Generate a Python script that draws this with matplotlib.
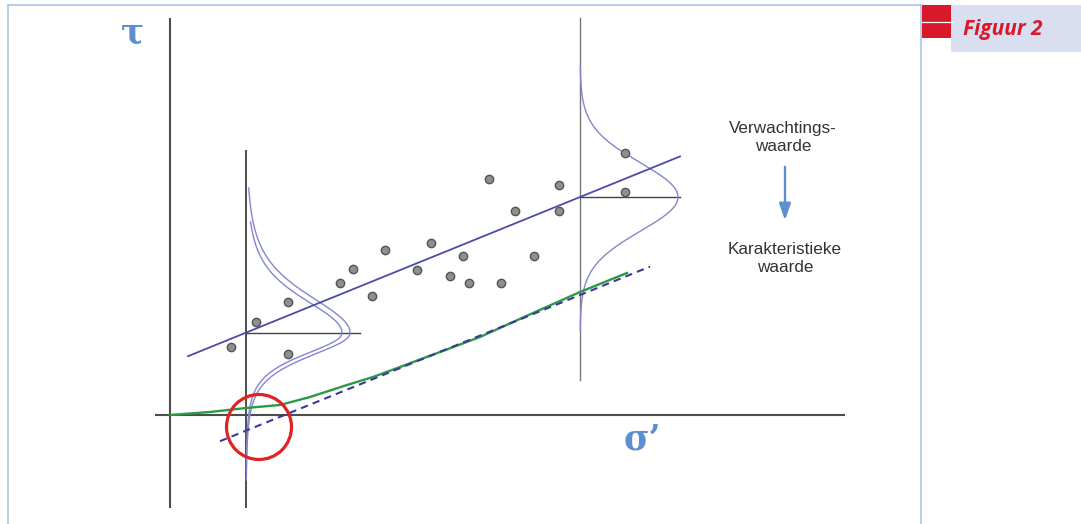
import matplotlib
matplotlib.use("Agg")
import matplotlib.pyplot as plt
from matplotlib.patches import Circle, Rectangle
from matplotlib.lines import Line2D
import numpy as np

# measured shear strength (sigma', tau)
sigma_obs = [0.61, 0.86, 1.18, 1.18, 1.70, 1.83, 2.02, 2.15, 2.47, 2.61, 2.80,
             2.93, 2.99, 3.19, 3.31, 3.45, 3.64, 3.89, 3.89, 4.55, 4.55]
tau_obs = [0.68, 0.93, 1.13, 0.61, 1.32, 1.46, 1.19, 1.65, 1.45, 1.72, 1.39,
           1.59, 1.32, 2.36, 1.32, 2.04, 1.59, 2.30, 2.04, 2.62, 2.23]

# fitted line (expected value) and the lowered characteristic line
fit_intercept = 0.515
fit_slope = 0.406
char_intercept = -0.465
fit_range = [0.18, 5.10]
char_range = [0.50, 4.80]

# characteristic curve through the origin
sigma_char = [0.00, 0.40, 0.76, 1.10, 1.40, 1.77, 2.03, 2.30, 2.70, 3.10, 3.63, 4.10, 4.57]
tau_char = [0.00, 0.03, 0.07, 0.10, 0.18, 0.30, 0.38, 0.48, 0.63, 0.78, 1.02, 1.23, 1.42]

# spread around the line at two stresses: base, centre, peak, scale above, scale below, dof, top, bottom
spreads = [
    (0.76, 0.82, 1.04, 0.40, 0.25, 4, 2.27, -0.65),
    (0.76, 0.82, 0.96, 0.36, 0.23, 4, 1.93, -0.55),
    (4.10, 2.18, 0.98, 0.35, 0.35, 30, 3.48, 0.85),
]

BLUE = "#5b8fd0"
AXC = "#4d4d4d"


def density(y, c, s_up, s_down, dof):
    s = np.where(y >= c, s_up, s_down)
    t = (y - c) / s
    return (1 + t ** 2 / dof) ** (-(dof + 1) / 2)


W, H = 1081, 524
fig = plt.figure(figsize=(W / 100, H / 100), dpi=100)
ax = fig.add_axes([0, 0, 1, 1])
ax.set_xlim(-1.70, 9.11)
ax.set_ylim(-1.09, 4.15)
ax.axis("off")

# axes of the diagram
ax.plot([0, 0], [-0.93, 3.97], color=AXC, lw=1.5, solid_capstyle="butt")
ax.plot([-0.15, 6.75], [0, 0], color=AXC, lw=1.5, solid_capstyle="butt")
ax.plot([0.76, 0.76], [-0.93, 2.65], color=AXC, lw=1.4, solid_capstyle="butt")
ax.plot([4.10, 4.10], [0.35, 3.97], color="#777777", lw=1.0)
ax.plot([0.76, 1.90], [0.82, 0.82], color="#444444", lw=1.0)
ax.plot([4.10, 5.10], [2.18, 2.18], color="#444444", lw=1.0)

# distributions
for base, c, peak, s_up, s_down, dof, top, bottom in spreads:
    yy = np.linspace(bottom, top, 300)
    ax.plot(base + peak * density(yy, c, s_up, s_down, dof), yy, color="#8585cf", lw=1.0)

# characteristic curve and lines
ax.plot(sigma_char, tau_char, color="#2b9a45", lw=1.7, zorder=3)
xc = np.array(char_range)
ax.plot(xc, char_intercept + fit_slope * xc, color="#3a3a9c", lw=1.5,
        dashes=(3.5, 2.5), zorder=4)
xf = np.array(fit_range)
ax.plot(xf, fit_intercept + fit_slope * xf, color="#4b4ba8", lw=1.3, zorder=4)

ax.scatter(sigma_obs, tau_obs, s=36, color="#8f8f8f", edgecolors="#555555",
           linewidths=1.0, zorder=5)

ax.add_patch(Circle((0.89, -0.12), 0.325, fill=False, ec="#e02222", lw=2.3, zorder=6))

ax.text(-0.37, 3.82, "τ", color=BLUE, fontsize=25, fontweight="bold",
        family="DejaVu Serif", ha="center", va="center")
ax.text(4.72, -0.25, "σ’", color=BLUE, fontsize=25, fontweight="bold",
        family="DejaVu Serif", ha="center", va="center")

ax.text(6.13, 2.78, "Verwachtings-\nwaarde", ha="center", va="center",
        fontsize=12.3, family="Liberation Sans", color="#333333", linespacing=1.25)
ax.annotate("", xy=(6.15, 1.92), xytext=(6.15, 2.51),
            arrowprops=dict(arrowstyle="-|>,head_length=1.0,head_width=0.35",
                            color=BLUE, lw=1.7))
ax.text(6.15, 1.57, "Karakteristieke\nwaarde", ha="center", va="center",
        fontsize=12.3, family="Liberation Sans", color="#333333", linespacing=1.25)

# page frame and figure tag
def fx(px):
    return px / W


def fy(py):
    return 1 - py / H


frame = "#a9c6e6"
fig.add_artist(Line2D([fx(8), fx(921)], [fy(5), fy(5)], color=frame, lw=1.2))
fig.add_artist(Line2D([fx(8), fx(8)], [fy(5), fy(524)], color=frame, lw=1.2))
fig.add_artist(Line2D([fx(921), fx(921)], [fy(5), fy(524)], color=frame, lw=1.2))
fig.add_artist(Rectangle((fx(951), fy(52)), fx(130), 47 / H, color="#d9dff0", lw=0))
fig.add_artist(Rectangle((fx(922), fy(37.5)), fx(29), 32.5 / H, color="#d7192b", lw=0))
fig.add_artist(Line2D([fx(922), fx(953)], [fy(21.5), fy(21.5)], color="white", lw=0.9))
fig.text(fx(963), fy(30), "Figuur 2", color="#d7192b", fontsize=15,
         family="Open Sans", fontweight="bold", style="italic", ha="left", va="center")

fig.savefig("out.png", dpi=100)
